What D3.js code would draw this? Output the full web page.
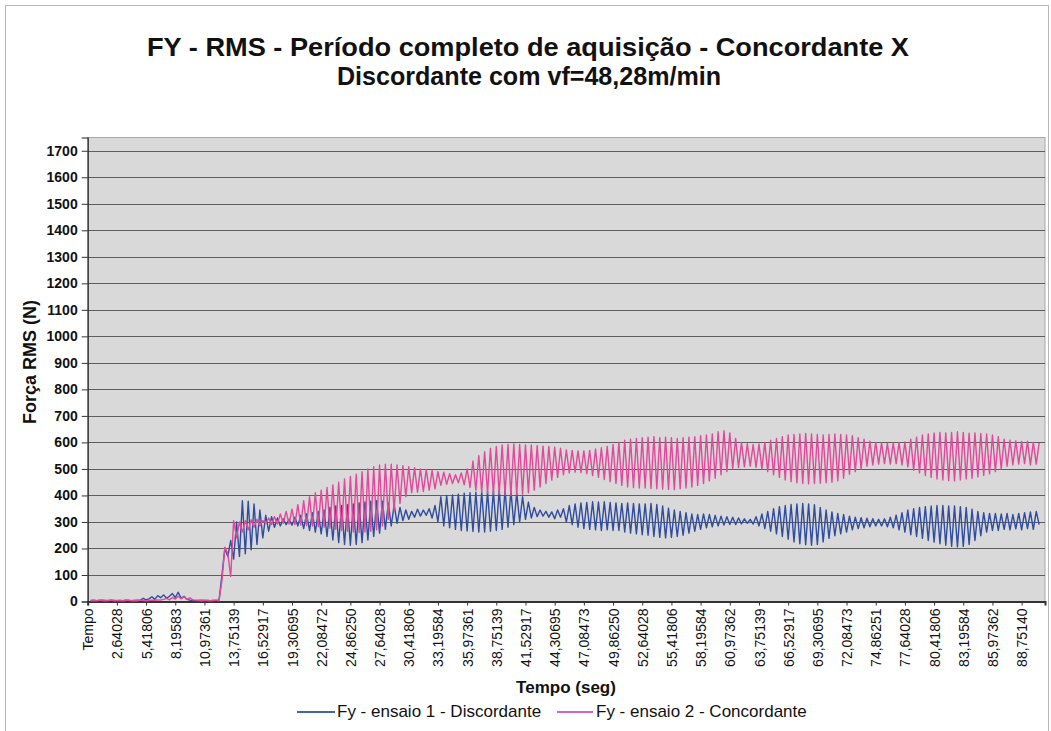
<!DOCTYPE html>
<html>
<head>
<meta charset="utf-8">
<script src="https://cdn.jsdelivr.net/npm/d3@7"></script>
<style>
  html, body { margin: 0; padding: 0; background: #ffffff; }
  svg { display: block; font-family: "Liberation Sans", Arial, sans-serif; }
</style>
</head>
<body>
<svg id="chart" width="1051" height="731"></svg>
<script>
// Category labels shown on the time axis (one every 10 categories; "Tempo" is the header row)
const tickLabels = ["Tempo","2,64028","5,41806","8,19583","10,97361","13,75139","16,52917",
  "19,30695","22,08472","24,86250","27,64028","30,41806","33,19584","35,97361","38,75139",
  "41,52917","44,30695","47,08473","49,86250","52,64028","55,41806","58,19584","60,97362",
  "63,75139","66,52917","69,30695","72,08473","74,86251","77,64028","80,41806","83,19584",
  "85,97362","88,75140"];
const labelEvery = 10;
const categoryCount = 329;

// Force axis labels
const yTicks = [0,100,200,300,400,500,600,700,800,900,1000,1100,1200,1300,1400,1500,1600,1700];
const yMax = 1750;

// Fy RMS (N), test 1 - up-milling (categories 1..326)
const fyDiscordante = [
  4,5,3,4,5,4,3,5,4,3,
  4,3,5,4,3,4,5,4,12,6,
  10,18,8,22,14,25,12,20,30,15,
  35,12,20,8,5,4,3,4,5,4,
  4,3,4,4,5,100,200,170,230,160,
  300,170,380,180,378,195,368,215,345,240,
  325,265,320,280,315,285,312,290,310,288,
  318,285,325,275,330,268,335,262,340,255,
  345,245,355,232,360,222,362,215,365,212,
  368,215,372,222,375,232,378,245,380,258,
  378,272,372,285,365,295,355,305,345,310,
  340,318,348,322,345,325,350,315,362,300,
  395,285,400,278,402,272,405,268,408,266,
  410,264,412,262,414,262,416,265,418,268,
  420,272,422,280,418,290,410,300,395,310,
  375,315,355,320,345,322,340,318,338,312,
  345,318,350,300,362,290,368,280,372,275,
  374,272,376,270,375,268,376,270,374,268,
  372,268,370,262,372,258,370,255,368,252,
  368,250,370,245,366,242,360,240,352,242,
  345,245,340,250,335,258,330,265,328,272,
  330,278,328,282,325,285,322,288,320,290,
  318,290,315,293,312,295,310,292,320,285,
  330,275,340,265,350,255,358,245,362,235,
  366,225,368,218,370,214,368,212,365,215,
  355,225,345,238,338,248,332,255,328,262,
  322,270,318,275,316,278,314,282,312,285,
  310,285,312,282,318,278,326,270,335,262,
  345,252,350,245,355,238,358,230,360,224,
  362,218,362,212,360,208,360,206,358,208,
  355,215,348,230,340,248,335,262,332,268,
  332,268,330,272,332,270,328,274,332,270,
  335,275,338,272,340,290
];

// Fy RMS (N), test 2 - down-milling (categories 1..326)
const fyConcordante = [
  3,4,3,5,4,3,4,5,3,4,
  4,3,4,5,3,4,3,5,4,3,
  4,5,4,6,5,8,12,6,15,9,
  20,10,18,8,14,6,5,4,3,4,
  4,3,4,5,3,80,205,180,95,305,
  240,300,262,305,270,308,280,310,285,305,
  295,315,290,320,292,330,295,340,292,348,
  290,365,288,380,286,395,285,410,282,420,
  280,430,276,440,272,450,268,462,265,472,
  262,480,260,490,262,500,265,508,270,515,
  285,518,310,518,340,515,370,512,395,508,
  410,505,412,500,415,498,420,494,425,490,
  438,488,442,482,445,478,448,485,440,500,
  430,530,420,550,412,565,408,578,405,585,
  405,590,402,592,400,594,402,592,405,590,
  410,590,420,588,432,586,445,585,458,582,
  468,578,478,572,485,570,488,568,486,568,
  482,570,475,575,468,580,460,585,452,592,
  445,600,438,608,432,612,430,615,428,618,
  428,620,426,622,425,618,424,620,423,618,
  422,615,425,618,428,620,432,622,438,625,
  445,628,455,632,465,640,478,644,490,636,
  500,615,505,600,508,595,510,592,506,594,
  500,600,490,608,478,615,468,622,458,628,
  452,630,448,632,445,634,444,632,445,630,
  446,628,448,630,450,632,455,630,465,628,
  480,625,490,618,500,612,510,605,515,600,
  518,598,520,596,518,598,520,600,515,602,
  508,612,495,620,485,628,475,632,468,636,
  462,638,458,636,456,638,455,640,458,638,
  462,635,465,636,470,634,475,632,482,628,
  490,622,500,612,510,608,515,606,518,604,
  520,605,515,600,518,598
];

const seriesNames = ["Fy - ensaio 1 - Discordante", "Fy - ensaio 2 - Concordante"];
const seriesColors = ["#2f4c9e", "#e2489c"];
const legendColors = ["#4466aa", "#cc66cc"];

const svg = d3.select("#chart");
const plot = { left: 87.7, right: 1045, top: 137.5, bottom: 601.5 };

// outer chart frame
svg.append("rect")
  .attr("x", 5.5).attr("y", 5.5).attr("width", 1043).attr("height", 740)
  .attr("fill", "#ffffff").attr("stroke", "#b8b8b8").attr("stroke-width", 1);

const x = d3.scaleLinear().domain([0, categoryCount - 1]).range([plot.left, plot.right]);
const y = d3.scaleLinear().domain([0, yMax]).range([plot.bottom, plot.top]);

// plot area
svg.append("rect")
  .attr("x", plot.left).attr("y", plot.top)
  .attr("width", plot.right - plot.left).attr("height", plot.bottom - plot.top)
  .attr("fill", "#d9d9d9").attr("stroke", "#a8a8a8").attr("stroke-width", 1);

// horizontal gridlines
svg.append("g").selectAll("line")
  .data(yTicks.filter(d => d > 0))
  .join("line")
  .attr("x1", plot.left).attr("x2", plot.right)
  .attr("y1", d => Math.round(y(d)) + 0.5).attr("y2", d => Math.round(y(d)) + 0.5)
  .attr("stroke", "#5e5e5e").attr("stroke-width", 1);

// y axis
const yAxis = d3.axisLeft(y).tickValues(yTicks).tickSize(6).tickPadding(4).tickFormat(d3.format("d"));
const gy = svg.append("g").attr("transform", `translate(${plot.left},0)`).call(yAxis);
gy.select(".domain").attr("stroke", "#222").attr("stroke-width", 1.2);
gy.selectAll(".tick line").attr("stroke", "#333");
gy.selectAll(".tick text")
  .attr("font-family", "'Liberation Sans', Arial, sans-serif")
  .attr("font-size", 14).attr("font-weight", "bold").attr("fill", "#111");

// x axis (categorical positions, labelled every 10 categories)
const labelIdx = tickLabels.map((t, i) => i * labelEvery);
const xAxis = d3.axisBottom(x).tickValues(labelIdx).tickSize(4).tickFormat((d, i) => tickLabels[i]);
const gx = svg.append("g").attr("transform", `translate(0,${plot.bottom})`).call(xAxis);
gx.select(".domain").attr("stroke", "#333").attr("stroke-width", 2);
gx.selectAll(".tick line").attr("stroke", "#333");
gx.selectAll(".tick text")
  .attr("font-family", "'Liberation Sans', Arial, sans-serif")
  .attr("font-size", 14).attr("fill", "#111")
  .attr("text-anchor", "end")
  .attr("transform", "rotate(-90)")
  .attr("x", -7).attr("y", 0).attr("dy", "0.36em");

// data lines
const line = d3.line().x((d, i) => x(i + 1)).y(d => y(d));
[fyDiscordante, fyConcordante].forEach((vals, s) => {
  svg.append("path")
    .datum(vals)
    .attr("fill", "none")
    .attr("stroke", seriesColors[s])
    .attr("stroke-width", 1.4)
    .attr("stroke-linejoin", "round")
    .attr("d", line);
});

// titles
svg.append("text").attr("x", 528).attr("y", 56).attr("text-anchor", "middle")
  .attr("font-size", 26).attr("font-weight", "bold").attr("fill", "#111")
  .attr("textLength", 762).attr("lengthAdjust", "spacingAndGlyphs")
  .text("FY - RMS - Período completo de aquisição - Concordante X");
svg.append("text").attr("x", 529).attr("y", 85).attr("text-anchor", "middle")
  .attr("font-size", 26).attr("font-weight", "bold").attr("fill", "#111")
  .attr("textLength", 384).attr("lengthAdjust", "spacingAndGlyphs")
  .text("Discordante com vf=48,28m/min");

svg.append("text").attr("x", 566).attr("y", 693).attr("text-anchor", "middle")
  .attr("font-size", 17).attr("font-weight", "bold").attr("fill", "#111")
  .text("Tempo (seg)");

svg.append("text")
  .attr("transform", `translate(36,${362}) rotate(-90)`)
  .attr("text-anchor", "middle")
  .attr("font-size", 18).attr("font-weight", "bold").attr("fill", "#111")
  .text("Força RMS (N)");

// legend
const legend = [
  { x0: 297, x1: 335, tx: 337 },
  { x0: 557, x1: 593, tx: 596 }
];
legend.forEach((L, i) => {
  svg.append("line").attr("x1", L.x0).attr("x2", L.x1).attr("y1", 712).attr("y2", 712)
    .attr("stroke", legendColors[i]).attr("stroke-width", 2);
  svg.append("text").attr("x", L.tx).attr("y", 717)
    .attr("font-size", 17).attr("fill", "#111").text(seriesNames[i]);
});
</script>
</body>
</html>
